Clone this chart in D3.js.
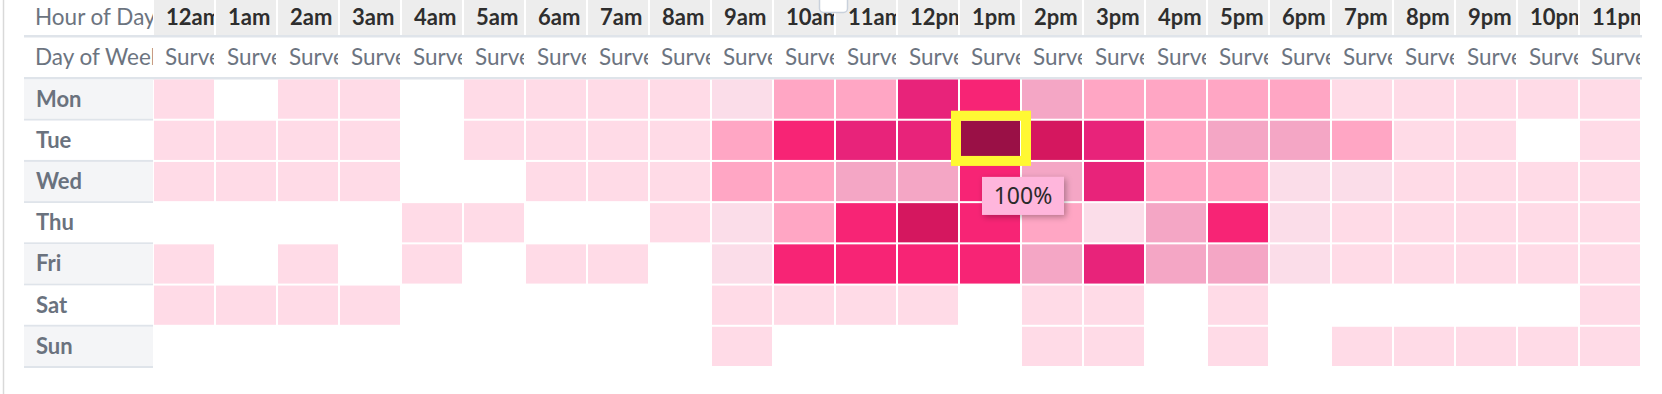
<!DOCTYPE html>
<html>
<head>
<meta charset="utf-8">
<script src="https://cdn.jsdelivr.net/npm/d3@7"></script>
<style>
  html, body { margin: 0; padding: 0; background: #ffffff; overflow: hidden; }
  svg { display: block; font-family: Lato, "Open Sans", sans-serif; }
</style>
</head>
<body>
<div id="chart"></div>
<script>

// columns / rows of the pivot
var hours = ["12am", "1am", "2am", "3am", "4am", "5am", "6am", "7am", "8am", "9am", "10am", "11am",
             "12pm", "1pm", "2pm", "3pm", "4pm", "5pm", "6pm", "7pm", "8pm", "9pm", "10pm", "11pm"];
var days = ["Mon", "Tue", "Wed", "Thu", "Fri", "Sat", "Sun"];
var measureLabel = "Survey Count";

// % of max survey count per hour (null = no surveys)
var mon = [10, null, 10, 10, null, 10, 10, 10, 10, 3, 30, 30, 75, 60, 40, 30, 30, 30, 30, 10, 10, 10, 10, 10];
var tue = [10, 10, 10, 10, null, 10, 10, 10, 10, 30, 60, 75, 75, 100, 85, 75, 30, 40, 40, 30, 10, 10, null, 10];
var wed = [10, 10, 10, 10, null, null, 10, 10, 10, 30, 30, 40, 40, 60, 40, 75, 30, 30, 3, 3, 10, 10, 10, 10];
var thu = [null, null, null, null, 10, 10, null, null, 10, 3, 30, 60, 85, 60, 30, 3, 40, 60, 3, 10, 10, 10, 10, 10];
var fri = [10, null, 10, null, 10, null, 10, 10, null, 3, 60, 60, 60, 60, 40, 75, 40, 40, 3, 10, 10, 10, 10, 10];
var sat = [10, 10, 10, 10, null, null, null, null, null, 10, 10, 10, 10, null, 10, 10, null, 10, null, null, null, null, null, 10];
var sun = [null, null, null, null, null, null, null, null, null, 10, null, null, null, null, 10, 10, null, 10, null, 10, 10, 10, 10, 10];
var values = [mon, tue, wed, thu, fri, sat, sun];

// highlighted cell + tooltip
var hoverDay = "Tue", hoverHour = "1pm";

var W = 1662, H = 394;

var svg = d3.select("#chart").append("svg")
    .attr("width", W)
    .attr("height", H);

var defs = svg.append("defs");

var x = d3.scaleBand().domain(hours).range([154, 1642]);
var y = d3.scaleBand().domain(days).range([79.5, 368]);

var color = d3.scaleThreshold()
    .domain([5, 20, 35, 50, 70, 80, 95])
    .range(["#fbdde9", "#ffdbe7", "#ffa6c4", "#f4a6c5", "#f72475", "#e8237a", "#d5175f", "#9a1046"]);

var cells = [];
days.forEach(function(d, i) {
    hours.forEach(function(h, j) {
        cells.push({ day: d, hour: h, v: values[i][j] });
    });
});

// cut a label down to the characters that start inside its cell,
// the clip path then hides the rest of the last one (like the table's overflow)
function fitText(sel, edge) {
    sel.each(function(d, i) {
        var node = this, e = edge(d, i), n = node.getNumberOfChars();
        for (var k = 0; k < n; k++) {
            if (node.getStartPositionOfChar(k).x >= e) {
                node.textContent = node.textContent.slice(0, k);
                break;
            }
        }
    });
}

// left frame line
svg.append("line")
    .attr("x1", 3.5).attr("x2", 3.5)
    .attr("y1", 0).attr("y2", H)
    .attr("stroke", "#d9d9d9")
    .attr("stroke-width", 1.5);

// clip paths per column so labels cut off at the cell edge
hours.forEach(function(h, j) {
    defs.append("clipPath").attr("id", "clip" + j)
        .append("rect")
        .attr("x", x(h)).attr("y", 0)
        .attr("width", x.step() - 2).attr("height", 79);
});
defs.append("clipPath").attr("id", "clipHead")
    .append("rect")
    .attr("x", 24).attr("y", 0)
    .attr("width", 129).attr("height", 79);

var colEdge = function(d) { return x(d) + x.step() - 2; };

// header row 1 : Hour of Day
svg.append("rect")
    .attr("x", 24).attr("y", 35)
    .attr("width", 1642 - 24).attr("height", 2.5)
    .attr("fill", "#dfe4ea");

svg.selectAll(".hourBg")
    .data(hours)
    .join("rect")
    .attr("class", "hourBg")
    .attr("x", function(d) { return x(d); })
    .attr("y", 0)
    .attr("width", x.step() - 2)
    .attr("height", 35)
    .attr("fill", "#ededed");

svg.selectAll(".hourLbl")
    .data(hours)
    .join("text")
    .attr("class", "hourLbl")
    .attr("clip-path", function(d, i) { return "url(#clip" + i + ")"; })
    .attr("x", function(d) { return x(d) + 12; })
    .attr("y", 25)
    .attr("font-size", 22)
    .attr("font-weight", "bold")
    .attr("fill", "#2e2e2e")
    .text(function(d) { return d; })
    .call(fitText, colEdge);

svg.append("text")
    .attr("clip-path", "url(#clipHead)")
    .attr("x", 35).attr("y", 25)
    .attr("font-size", 22.5)
    .attr("fill", "#6c7480")
    .text("Hour of Day")
    .call(fitText, function() { return 153; });

// header row 2 : Day of Week / measure
svg.append("rect")
    .attr("x", 24).attr("y", 77)
    .attr("width", 1642 - 24).attr("height", 2.5)
    .attr("fill", "#dfe4ea");

svg.append("text")
    .attr("clip-path", "url(#clipHead)")
    .attr("x", 35).attr("y", 65)
    .attr("font-size", 22.5)
    .attr("fill", "#6c7480")
    .text("Day of Week")
    .call(fitText, function() { return 153; });

svg.selectAll(".measLbl")
    .data(hours)
    .join("text")
    .attr("class", "measLbl")
    .attr("clip-path", function(d, i) { return "url(#clip" + i + ")"; })
    .attr("x", function(d) { return x(d) + 11; })
    .attr("y", 65)
    .attr("font-size", 22.5)
    .attr("fill", "#6c7480")
    .text(measureLabel)
    .call(fitText, colEdge);

// row headers
var rows = svg.selectAll(".rowHead")
    .data(days)
    .join("g")
    .attr("class", "rowHead")
    .attr("transform", function(d) { return "translate(24," + y(d) + ")"; });

rows.append("rect")
    .attr("width", 129)
    .attr("height", y.step() - 2)
    .attr("fill", function(d, i) { return i % 2 == 0 ? "#f4f5f7" : "#ffffff"; });

rows.append("rect")
    .attr("y", y.step() - 2)
    .attr("width", 129)
    .attr("height", 2)
    .attr("fill", "#dfe4ea");

rows.append("text")
    .attr("x", 12)
    .attr("y", 27)
    .attr("font-size", 22)
    .attr("font-weight", "bold")
    .attr("fill", "#6a727e")
    .text(function(d) { return d; });

// heat cells
svg.selectAll(".cell")
    .data(cells.filter(function(c) { return c.v != null; }))
    .join("rect")
    .attr("class", "cell")
    .attr("x", function(d) { return x(d.hour); })
    .attr("y", function(d) { return y(d.day); })
    .attr("width", x.step() - 2)
    .attr("height", y.step() - 2)
    .attr("fill", function(d) { return color(d.v); });

// highlight box
var hx = x(hoverHour), hy = y(hoverDay);
svg.append("rect")
    .attr("x", hx - 4)
    .attr("y", hy - 5)
    .attr("width", x.step() + 8)
    .attr("height", y.step() + 4)
    .attr("fill", "none")
    .attr("stroke", "#fff833")
    .attr("stroke-width", 10);

// tooltip
var shadow = defs.append("filter").attr("id", "shadow")
    .attr("x", "-20%").attr("y", "-20%").attr("width", "150%").attr("height", "160%");
shadow.append("feDropShadow")
    .attr("dx", 2).attr("dy", 2)
    .attr("stdDeviation", 3)
    .attr("flood-color", "#000")
    .attr("flood-opacity", 0.3);

var hv = values[days.indexOf(hoverDay)][hours.indexOf(hoverHour)];
var tip = svg.append("g")
    .attr("transform", "translate(" + (hx + 22) + "," + (hy + y.step() + 15) + ")");
tip.append("rect")
    .attr("width", 82)
    .attr("height", 38)
    .attr("fill", "#ffb6dc")
    .attr("filter", "url(#shadow)");
tip.append("text")
    .attr("x", 41)
    .attr("y", 27)
    .attr("text-anchor", "middle")
    .attr("font-family", "'Noto Sans', sans-serif")
    .attr("font-size", 23)
    .attr("fill", "#2a2a2a")
    .text(hv + "%");

// small handle at top of the view
svg.append("rect")
    .attr("x", 819.5).attr("y", -6)
    .attr("width", 28).attr("height", 18.5)
    .attr("rx", 4)
    .attr("fill", "#ffffff")
    .attr("stroke", "#c9d1dc")
    .attr("stroke-width", 1.5);

</script>
</body>
</html>
